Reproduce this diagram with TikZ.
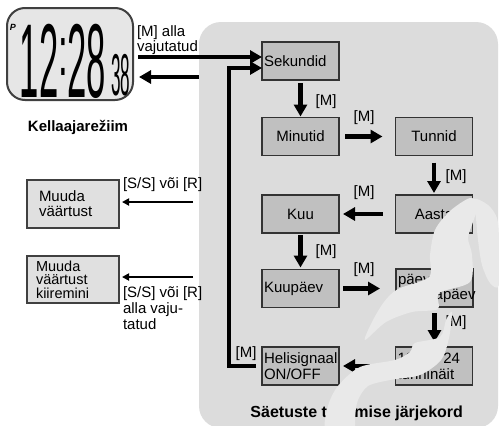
\documentclass[tikz,border=0pt]{standalone}
\usepackage{fontspec}
\setmainfont{Liberation Sans}
\usetikzlibrary{arrows.meta}
\definecolor{panelgray}{HTML}{DCDCDC}
\definecolor{boxgray}{HTML}{C0C0C0}
\definecolor{lightbox}{HTML}{E0E0E0}
\definecolor{lcdgray}{HTML}{E6E6E6}
\definecolor{swirlgray}{HTML}{E9E9E9}
\begin{document}
\begin{tikzpicture}[x=1pt,y=-1pt,
  every node/.style={inner sep=0pt, outer sep=0pt},
  lab/.style={font=\fontsize{15}{16}\selectfont},
  stepbox/.style={draw=black!80, line width=1.1pt, fill=boxgray, minimum width=77pt, minimum height=38pt, text width=73pt, inner xsep=2pt, font=\fontsize{15}{16}\selectfont},
  lbox/.style={stepbox, align=left},
  cbox/.style={stepbox, align=center},
  sidebox/.style={draw=black!75, line width=1.1pt, fill=lightbox, align=left},
  thickarrow/.style={line width=4.2pt, -{Triangle[length=12pt,width=13pt]}},
  thinarrow/.style={line width=2pt, -{Triangle[length=7pt,width=7pt]}},
]
\useasboundingbox (0,0) rectangle (499,426);
\fill[white] (0,0) rectangle (499,426);

% grey settings panel
\node[fill=panelgray, rounded corners=22pt, minimum width=299pt, minimum height=406pt] (panel) at (348.5,225) {};

% LCD clock
\node[draw=black!75, line width=2pt, fill=lcdgray, rounded corners=18pt, minimum width=126pt, minimum height=92pt] (lcd) at (70,54) {};
\node[anchor=base east, font=\fontsize{105}{105}\selectfont] (dA) at (58.5,97) {\scalebox{0.33}[1]{12}};
\node[anchor=base, font=\fontsize{70}{70}\selectfont] (dcol) at (63,75.5) {\scalebox{0.5}[1]{:}};
\node[anchor=base west, font=\fontsize{105}{105}\selectfont] (dC) at (67,97) {\scalebox{0.33}[1]{28}};
\node[anchor=base west, font=\fontsize{59}{59}\selectfont] (dB) at (111,95) {\scalebox{0.29}[1]{38}};
\node[font=\fontsize{9}{9}\selectfont\bfseries\itshape] (dP) at (13,27) {P};
\node[font=\fontsize{15}{16}\selectfont\bfseries] (kell) at (78,127) {Kellaajarežiim};

% step boxes
\node[lbox] (sek) at (300.5,61) {Sekundid};
\node[cbox] (min) at (300.5,136.5) {Minutid};
\node[cbox] (tun) at (434,136.5) {Tunnid};
\node[cbox] (aas) at (434,214) {Aasta};
\node[cbox] (kuu) at (300.5,214) {Kuu};
\node[lbox] (kup) at (300.5,288.5) {Kuupäev};
\node[lbox, font=\fontsize{15}{13.5}\selectfont] (pae) at (434.5,288) {päev/kuu\\nädalapäev};
\node[lbox] (tw) at (434,366) {12 või 24\\tunninäit};
\node[lbox] (hel) at (300.5,366) {Helisignaal\\ON/OFF};

% side boxes
\node[sidebox, text width=68pt, inner xsep=12pt, minimum height=48pt, font=\fontsize{15}{15}\selectfont] (mv1) at (73,204) {Muuda\\väärtust};
\node[sidebox, text width=74pt, inner xsep=9pt, minimum height=47pt, font=\fontsize{14.5}{13.5}\selectfont] (mv2) at (73,279.5) {Muuda\\väärtust\\kiiremini};

% connectors
\coordinate (astart) at (138,57);
\draw[thickarrow] (astart) -- (sek.west |- astart);
\coordinate (cstart) at (199,77);
\draw[thickarrow, shorten >=6pt] (cstart) -- (lcd.east |- cstart);
\coordinate (loopc) at (229,68);
\draw[thickarrow, line join=miter] ([xshift=-6pt]hel.west) -| (loopc) -- (sek.west |- loopc);

\draw[thickarrow, shorten <=3pt, shorten >=1pt] (sek) -- (min);
\draw[thickarrow, shorten <=6pt, shorten >=13pt] (min) -- (tun);
\draw[thickarrow, shorten <=7pt, shorten >=2pt] (tun) -- (aas);
\draw[thickarrow, shorten <=13pt, shorten >=4pt] (aas) -- (kuu);
\draw[thickarrow, shorten <=2pt, shorten >=2pt] (kuu) -- (kup);
\draw[thickarrow, shorten <=4pt, shorten >=16pt] (kup.east) -- (kup.east -| pae.west);
\draw[thickarrow, shorten <=6pt, shorten >=5pt] (pae.south) -- (pae.south |- tw.north);
\draw[thickarrow, shorten <=13pt, shorten >=4pt] (tw) -- (hel);

\coordinate (l1s) at (193,202);
\draw[thinarrow, shorten >=3pt] (l1s) -- (mv1.east |- l1s);
\coordinate (l2s) at (193,277);
\draw[thinarrow, shorten >=3pt] (l2s) -- (mv2.east |- l2s);

% labels
\node[anchor=north west, align=left, font=\fontsize{15}{12.5}\selectfont] (lmalla) at (137,26) {[M] alla\\vajutatud};
\node[lab] (m1) at (326,102) {[M]};
\node[lab] (m2) at (364,118) {[M]};
\node[lab] (m3) at (456,177) {[M]};
\node[lab] (m4) at (364,193) {[M]};
\node[lab] (m5) at (326,252) {[M]};
\node[lab] (m6) at (364,270) {[M]};
\node[lab] (m7) at (456,323) {[M]};
\node[lab] (m8) at (246,354) {[M]};
\node[lab, anchor=west] (ss1) at (123,185) {[S/S] või [R]};
\node[anchor=north west, align=left, font=\fontsize{15}{16}\selectfont] (ss2) at (123,287) {[S/S] või [R]\\alla vaju-\\tatud};
\node[font=\fontsize{16}{16}\selectfont\bfseries, anchor=east] (title) at (463,413) {Säetuste tegemise järjekord};

% light swirl overlay
\fill[swirlgray] plot[smooth cycle, tension=0.5] coordinates {(470,198) (450,211) (435,230) (430,255) (429,277) (398,289) (384,302) (372,322) (365,340) (386,322) (412,312) (438,309) (439,293) (470,282) (472,255) (468,238) (473,222) (478,205)};
\fill[swirlgray] plot[smooth cycle, tension=0.5] coordinates {(474,199) (488,205) (497,218) (499,240) (499,285) (490,283) (482,265) (478,240) (476,218)};
\fill[swirlgray] plot[smooth cycle, tension=0.5] coordinates {(452,312) (449,338) (441,360) (420,375) (390,380) (368,386) (358,400) (355,415) (353,430) (326,430) (328,406) (338,386) (360,367) (395,360) (410,352) (415,343) (440,337) (446,320)};
\end{tikzpicture}
\end{document}
